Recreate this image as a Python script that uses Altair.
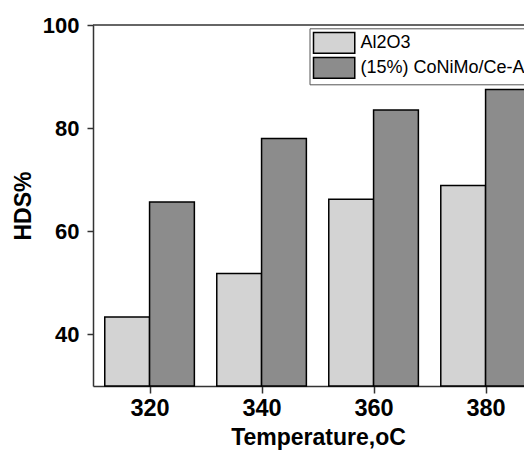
import altair as alt
import pandas as pd

temperatures = [320, 340, 360, 380]
catalysts = ["Al2O3", "(15%) CoNiMo/Ce-Al2O3"]
al2o3_values = [43.4, 51.8, 66.2, 68.9]
conimo_values = [65.7, 78.0, 83.5, 87.5]
y_ticks = [40, 60, 80, 100]

rows = []
for t, a, c in zip(temperatures, al2o3_values, conimo_values):
    rows.append({"Temperature": t, "Catalyst": catalysts[0], "HDS": a, "side": -1})
    rows.append({"Temperature": t, "Catalyst": catalysts[1], "HDS": c, "side": 0})
df = pd.DataFrame(rows)

FONT = "Liberation Sans"
BAR_W = 8  # bar width in temperature units

bars = alt.Chart(df).transform_calculate(
    x0=f"datum.Temperature + datum.side * {BAR_W}",
    x1=f"datum.Temperature + (datum.side + 1) * {BAR_W}",
).mark_bar(stroke="black", strokeWidth=1.5, opacity=1).encode(
    x=alt.X(
        "x0:Q",
        scale=alt.Scale(domain=[309.9, 386.86], nice=False, zero=False),
        axis=alt.Axis(
            title="Temperature,oC", values=temperatures, format="d",
            labelFont=FONT, labelFontSize=23.5, labelFontWeight="bold", labelColor="black",
            titleFont=FONT, titleFontSize=23, titleFontWeight="bold", titleColor="black",
            titleX=225, titleAlign="center",
            tickSize=7, tickColor="#333333", domainColor="#333333", domainWidth=1.5,
            tickWidth=1.5, labelPadding=3, titlePadding=7, grid=False,
            labelFlush=False,
        ),
    ),
    x2="x1:Q",
    y=alt.Y(
        "HDS:Q",
        scale=alt.Scale(domain=[30, 100], nice=False, zero=False, clamp=True),
        axis=alt.Axis(
            title="HDS%", values=y_ticks,
            labelFont=FONT, labelFontSize=22, labelFontWeight="bold", labelColor="black",
            titleFont=FONT, titleFontSize=23, titleFontWeight="bold", titleColor="black",
            tickSize=6, tickColor="#333333", domainColor="#333333", domainWidth=1.5,
            tickWidth=1.5, labelPadding=8, titlePadding=7, grid=False,
        ),
    ),
    y2=alt.Y2(datum=30),
    color=alt.Color(
        "Catalyst:N", sort=catalysts,
        scale=alt.Scale(domain=catalysts, range=["#d3d3d3", "#8c8c8c"]),
        legend=alt.Legend(
            title=None, orient="none", legendX=216.5, legendY=3.3,
            symbolType="M-1,-0.985H2.93V0.985H-1Z", symbolSize=441,
            symbolStrokeColor="black", symbolStrokeWidth=1.5, symbolOpacity=1,
            labelFont=FONT, labelFontSize=18, labelColor="black", labelLimit=500,
            labelOffset=25, rowPadding=-4, padding=3,
            strokeColor="#555555", fillColor="white",
        ),
    ),
)

top_line = alt.Chart(pd.DataFrame({"v": [100]})).mark_rule(
    color="#333333", strokeWidth=1.5
).encode(y=alt.Y("v:Q"))

chart = alt.layer(bars, top_line).properties(
    width=431, height=361,
    autosize=alt.AutoSizeParams(type="none"),
    padding={"left": 85, "top": 17, "right": 0, "bottom": 65},
).configure_view(stroke=None)

chart.save("out.html", embed_options={"renderer": "svg", "actions": False})
